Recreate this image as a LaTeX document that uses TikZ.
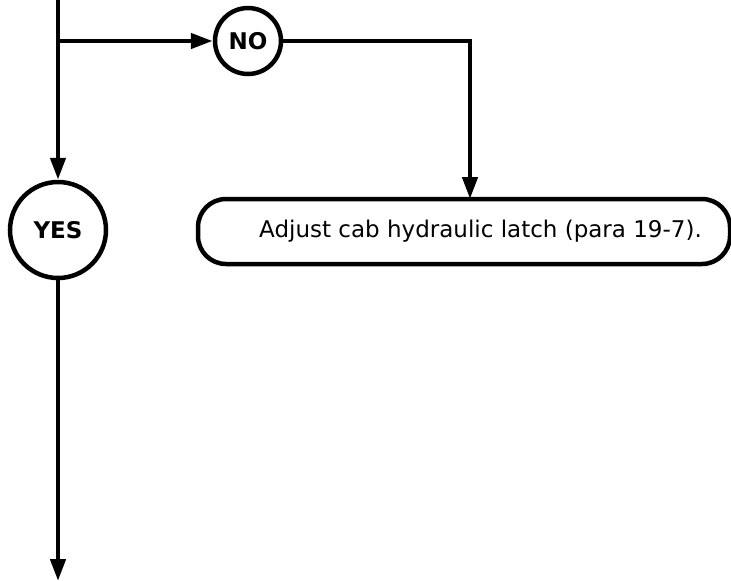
\documentclass[tikz,border=0pt]{standalone}
\usepackage{fontspec}
\setmainfont{DejaVu Sans}
\usetikzlibrary{arrows.meta}
\begin{document}
\begin{tikzpicture}[x=1pt,y=-1pt,
  flow/.style={line width=4.5pt,-{Triangle[length=22pt,width=15pt]}},
  decision/.style={circle,draw,line width=4.5pt,inner sep=0pt,font=\bfseries\fontsize{23}{27}\selectfont},
  actionbox/.style={draw,line width=4.5pt,rounded corners=28pt,minimum width=532pt,minimum height=65pt,inner sep=0pt}]
\useasboundingbox (0,0) rectangle (731,581);
\coordinate (top) at (58,-2);
\coordinate (branch) at (58,41);
\node[decision,minimum size=66pt] (no) at (248,41) {NO};
\node[decision,minimum size=96pt] (yes) at (58,230) {YES};
\node[actionbox] (act) at (464,231.5) {};
\node[font=\fontsize{23}{27}\selectfont,anchor=west,inner sep=0pt] (acttext) at (259,231.5) {Adjust cab hydraulic latch (para 19-7).};
\coordinate (corner) at (470,41);
\coordinate (acttop) at (470,199);
\coordinate (bottom) at (58,581);
\draw[flow] (top) -- (yes.north);
\draw[flow] (branch) -- (no.west);
\draw[flow] (no.east) -- (corner) -- (acttop);
\draw[flow] (yes.south) -- (bottom);
\end{tikzpicture}
\end{document}
